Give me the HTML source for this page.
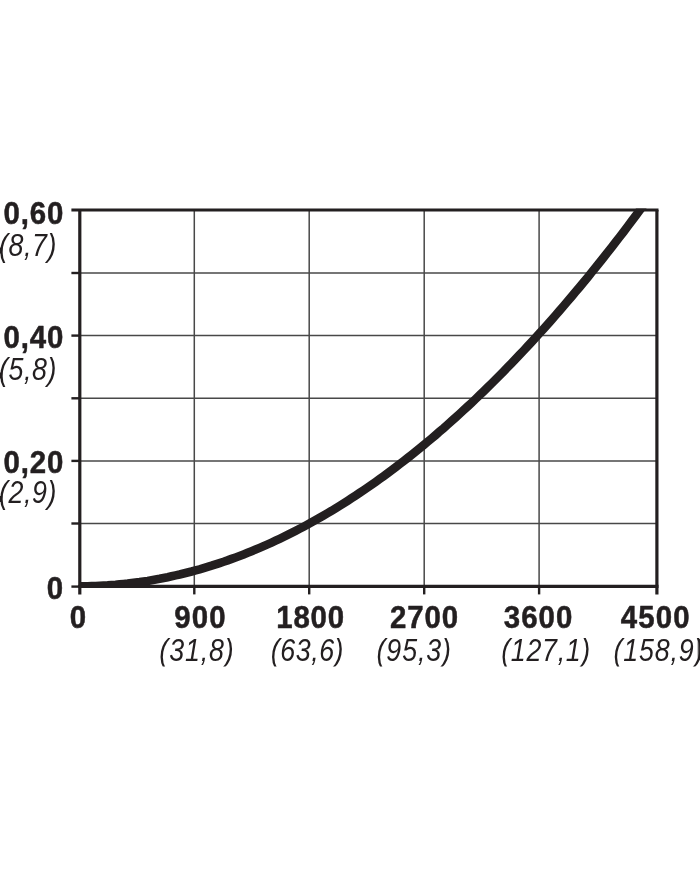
<!DOCTYPE html>
<html><head><meta charset="utf-8"><title>chart</title>
<style>
html,body{margin:0;padding:0;background:#fff;}
body{width:700px;height:869px;overflow:hidden;position:relative;}
svg{position:absolute;left:0;top:0;display:block;}
text{font-family:"Liberation Sans",Arial,Helvetica,sans-serif;fill:#231f20;stroke:#231f20;stroke-linejoin:round;}
.b{font-weight:bold;font-size:31.0px;stroke-width:0.5px;}
.i{font-style:italic;font-size:31.2px;stroke:none;}
</style></head><body>
<svg width="700" height="869" viewBox="0 0 700 869">
<defs>
<clipPath id="plot"><rect x="78" y="208.5" width="580.5" height="379.3"/></clipPath>
<linearGradient id="edge" x1="0" y1="0" x2="1" y2="0"><stop offset="0" stop-color="#231f20" stop-opacity="0"/><stop offset="0.5" stop-color="#231f20" stop-opacity="0.75"/><stop offset="1" stop-color="#231f20" stop-opacity="0.9"/></linearGradient>
<clipPath id="txt"><rect x="0" y="0" width="700" height="666.5"/></clipPath>
</defs>
<rect width="700" height="869" fill="#fff"/>

<g stroke="#484848" stroke-width="1.5" fill="none">
<line x1="194.3" y1="210" x2="194.3" y2="586"/>
<line x1="309.2" y1="210" x2="309.2" y2="586"/>
<line x1="424.2" y1="210" x2="424.2" y2="586"/>
<line x1="539.1" y1="210" x2="539.1" y2="586"/>
<line x1="80" y1="273.0" x2="657" y2="273.0"/>
<line x1="80" y1="335.6" x2="657" y2="335.6"/>
<line x1="80" y1="398.3" x2="657" y2="398.3"/>
<line x1="80" y1="460.9" x2="657" y2="460.9"/>
<line x1="80" y1="523.5" x2="657" y2="523.5"/>
</g>
<g stroke="#231f20" stroke-width="2.4" fill="none">
<line x1="194.3" y1="586" x2="194.3" y2="594.4"/>
<line x1="309.2" y1="586" x2="309.2" y2="594.4"/>
<line x1="424.2" y1="586" x2="424.2" y2="594.4"/>
<line x1="539.1" y1="586" x2="539.1" y2="594.4"/>
<line x1="71.4" y1="273.0" x2="80" y2="273.0"/>
<line x1="71.4" y1="335.6" x2="80" y2="335.6"/>
<line x1="71.4" y1="398.3" x2="80" y2="398.3"/>
<line x1="71.4" y1="460.9" x2="80" y2="460.9"/>
<line x1="71.4" y1="523.5" x2="80" y2="523.5"/>
<line x1="71.4" y1="586.6" x2="80" y2="586.6"/>
</g>
<path d="M79.6,586.3 L83.6,586.3 L87.6,586.2 L91.6,586.1 L95.6,586.0 L99.6,585.8 L103.6,585.6 L107.6,585.4 L111.6,585.1 L115.6,584.8 L119.6,584.4 L123.6,584.0 L127.6,583.6 L131.6,583.1 L135.6,582.6 L139.6,582.1 L143.6,581.5 L147.6,580.9 L151.6,580.2 L155.6,579.5 L159.6,578.8 L163.6,578.0 L167.6,577.2 L171.6,576.3 L175.6,575.4 L179.6,574.5 L183.6,573.5 L187.6,572.5 L191.6,571.5 L195.6,570.4 L199.6,569.3 L203.6,568.1 L207.6,566.9 L211.6,565.7 L215.6,564.4 L219.6,563.1 L223.6,561.8 L227.6,560.4 L231.6,558.9 L235.6,557.5 L239.6,556.0 L243.6,554.4 L247.6,552.8 L251.6,551.2 L255.6,549.6 L259.6,547.9 L263.6,546.1 L267.6,544.4 L271.6,542.6 L275.6,540.7 L279.6,538.8 L283.6,536.9 L287.6,534.9 L291.6,532.9 L295.6,530.9 L299.6,528.8 L303.6,526.7 L307.6,524.5 L311.6,522.3 L315.6,520.1 L319.6,517.8 L323.6,515.5 L327.6,513.1 L331.6,510.8 L335.6,508.3 L339.6,505.9 L343.6,503.4 L347.6,500.8 L351.6,498.2 L355.6,495.6 L359.6,492.9 L363.6,490.2 L367.6,487.5 L371.6,484.7 L375.6,481.9 L379.6,479.1 L383.6,476.2 L387.6,473.2 L391.6,470.3 L395.6,467.3 L399.6,464.2 L403.6,461.1 L407.6,458.0 L411.6,454.8 L415.6,451.6 L419.6,448.4 L423.6,445.1 L427.6,441.8 L431.6,438.5 L435.6,435.1 L439.6,431.6 L443.6,428.2 L447.6,424.6 L451.6,421.1 L455.6,417.5 L459.6,413.9 L463.6,410.2 L467.6,406.5 L471.6,402.8 L475.6,399.0 L479.6,395.2 L483.6,391.3 L487.6,387.4 L491.6,383.5 L495.6,379.5 L499.6,375.5 L503.6,371.4 L507.6,367.3 L511.6,363.2 L515.6,359.0 L519.6,354.8 L523.6,350.6 L527.6,346.3 L531.6,342.0 L535.6,337.6 L539.6,333.2 L543.6,328.8 L547.6,324.3 L551.6,319.8 L555.6,315.2 L559.6,310.6 L563.6,306.0 L567.6,301.3 L571.6,296.6 L575.6,291.8 L579.6,287.1 L583.6,282.2 L587.6,277.4 L591.6,272.4 L595.6,267.5 L599.6,262.5 L603.6,257.5 L607.6,252.4 L611.6,247.3 L615.6,242.2 L619.6,237.0 L623.6,231.8 L627.6,226.5 L631.6,221.2 L635.6,215.9 L639.6,210.5 L643.6,205.1 L647.6,199.7 L651.6,194.2 L655.6,188.7 L659.6,183.1 L663.6,177.5" fill="none" stroke="#231f20" stroke-width="8.6" clip-path="url(#plot)"/>
<g stroke="#231f20" stroke-width="3.2" fill="none">
<line x1="71.4" y1="210" x2="658.5" y2="210"/>
<line x1="78.2" y1="586.3" x2="658.5" y2="586.3"/>
<line x1="79.8" y1="210" x2="79.8" y2="594.4"/>
<line x1="656.9" y1="210" x2="656.9" y2="594.4"/>
</g>
<rect x="-1" y="247.5" width="3.2" height="6" fill="#231f20"/>
<rect x="-1" y="372.5" width="3.2" height="6" fill="#231f20"/>
<rect x="-1" y="496" width="3.2" height="6" fill="#231f20"/>
<rect x="697" y="639" width="3" height="21" fill="url(#edge)"/>
<g clip-path="url(#txt)">
<text class="b" transform="translate(3.60,223.6) scale(0.95,1)" style="letter-spacing:0.88px">0,60</text>
<text class="b" transform="translate(3.60,348.4) scale(0.95,1)" style="letter-spacing:0.88px">0,40</text>
<text class="b" transform="translate(3.60,472.6) scale(0.95,1)" style="letter-spacing:0.88px">0,20</text>
<text class="i" transform="translate(-1.00,255.9) scale(0.86,1)" style="letter-spacing:0.65px">(8,7)</text>
<text class="i" transform="translate(-1.00,380.3) scale(0.86,1)" style="letter-spacing:0.65px">(5,8)</text>
<text class="i" transform="translate(-1.00,503.4) scale(0.86,1)" style="letter-spacing:0.65px">(2,9)</text>
<text class="b" transform="translate(46.66,599.3) scale(0.95,1)" style="letter-spacing:-0.50px">0</text>
<text class="b" transform="translate(69.66,628.3) scale(0.95,1)" style="letter-spacing:-0.50px">0</text>
<text class="b" transform="translate(174.15,628.3) scale(0.95,1)" style="letter-spacing:1.20px">900</text>
<text class="b" transform="translate(276.31,628.3) scale(0.95,1)" style="letter-spacing:0.81px">1800</text>
<text class="b" transform="translate(389.89,628.3) scale(0.95,1)" style="letter-spacing:0.97px">2700</text>
<text class="b" transform="translate(503.67,628.3) scale(0.95,1)" style="letter-spacing:1.15px">3600</text>
<text class="b" transform="translate(620.79,628.3) scale(0.95,1)" style="letter-spacing:1.16px">4500</text>
<text class="i" transform="translate(159.35,660.6) scale(0.86,1)" style="letter-spacing:0.99px">(31,8)</text>
<text class="i" transform="translate(270.75,660.6) scale(0.86,1)" style="letter-spacing:0.64px">(63,6)</text>
<text class="i" transform="translate(376.53,660.6) scale(0.86,1)" style="letter-spacing:1.04px">(95,3)</text>
<text class="i" transform="translate(501.26,660.6) scale(0.86,1)" style="letter-spacing:0.79px">(127,1)</text>
<text class="i" transform="translate(613.58,660.6) scale(0.86,1)" style="letter-spacing:0.95px">(158,9)</text>
</g>
</svg></body></html>
